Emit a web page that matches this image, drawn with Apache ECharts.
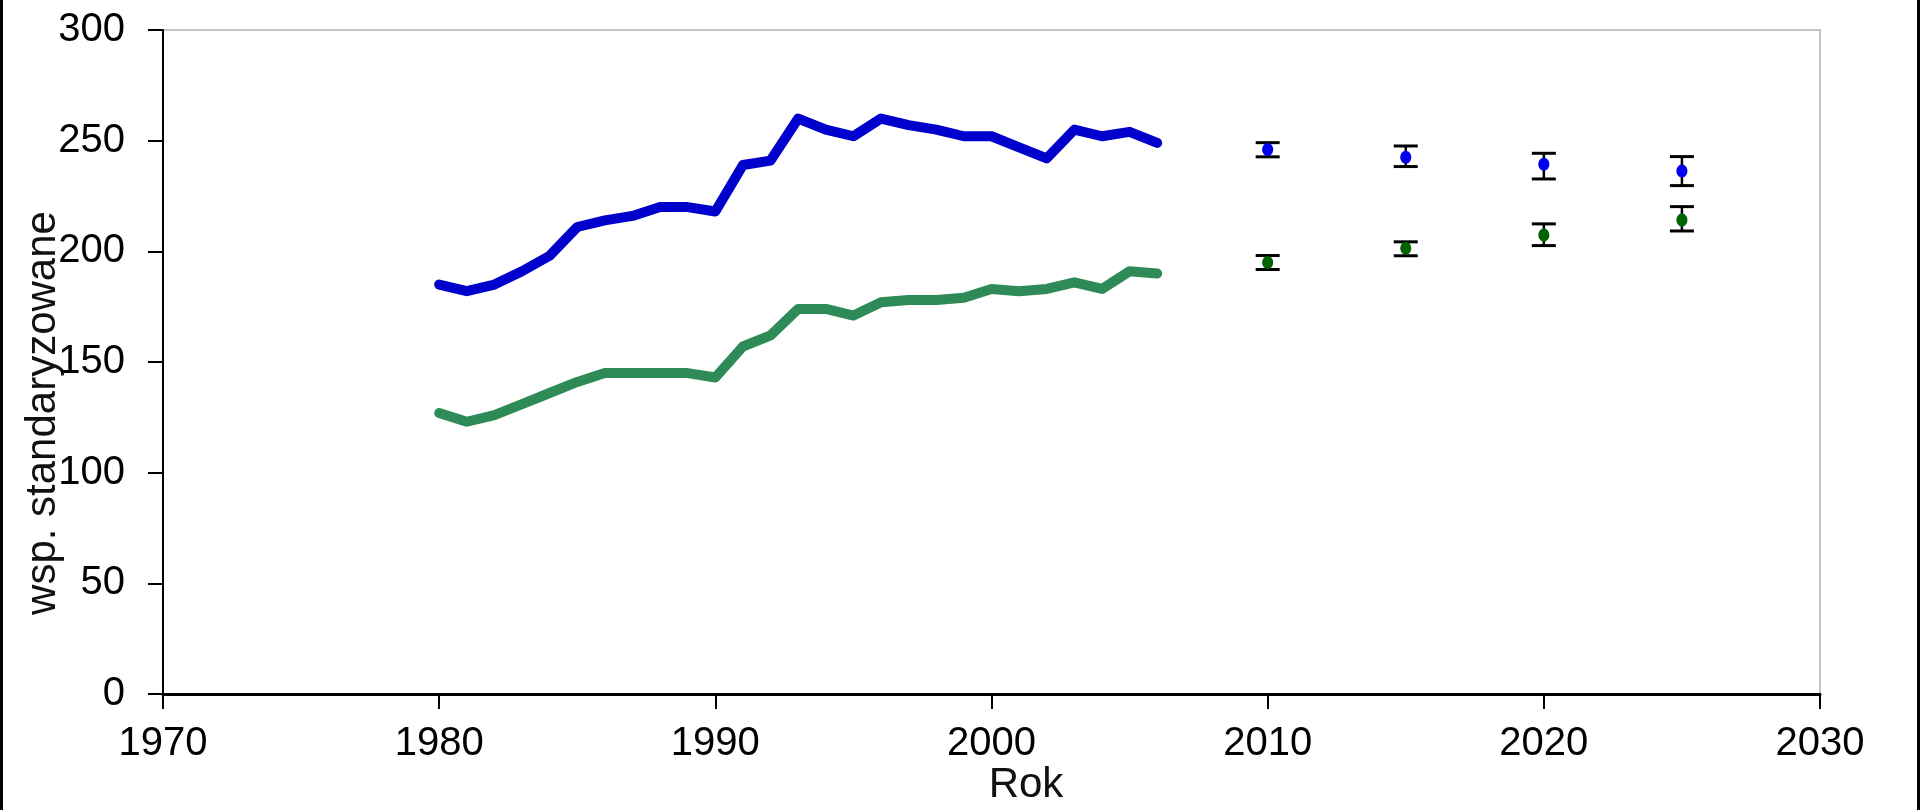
<!DOCTYPE html>
<html>
<head>
<meta charset="utf-8">
<script src="https://cdn.jsdelivr.net/npm/echarts@6/dist/echarts.min.js"></script>
<style>
html,body{margin:0;padding:0;background:#fff;}
#chart{width:1920px;height:810px;}
</style>
</head>
<body>
<div id="chart"></div>
<script>
// ---- data ----
const histYears = [1980,1981,1982,1983,1984,1985,1986,1987,1988,1989,1990,1991,1992,1993,1994,1995,1996,1997,1998,1999,2000,2001,2002,2003,2004,2005,2006];
const blueHist  = [185,182,185,191,198,211,214,216,220,220,218,239,241,260,255,252,260,257,255,252,252,247,242,255,252,254,249];
const greenHist = [127,123,126,131,136,141,145,145,145,145,143,157,162,174,174,171,177,178,178,179,183,182,183,186,183,191,190];
const projYears = [2010,2015,2020,2025];
const blueProj  = [246,242.5,239.3,236.3];
const blueLow   = [242.7,238.3,232.7,229.7];
const blueHigh  = [249.1,247.6,244.3,242.8];
const greenProj = [195,201.4,207.4,214.2];
const greenLow  = [191.8,198,202.6,209.2];
const greenHigh = [198.1,204.3,212.4,220.2];
const xTicks = [1970,1980,1990,2000,2010,2020,2030];
const yTicks = [0,50,100,150,200,250,300];
const yTitle = 'wsp. standaryzowane';
const xTitle = 'Rok';

const FONT = "'Liberation Sans', Arial, sans-serif";
const chart = echarts.init(document.getElementById('chart'), null, {renderer:'canvas'});

function pairs(xs, ys){ return xs.map((x,i)=>[x, ys[i]]); }

function errBar(color){
  return function(params, api){
    const x = api.value(0);
    const lo = api.coord([x, api.value(2)]);
    const hi = api.coord([x, api.value(3)]);
    const c = api.coord([x, api.value(1)]);
    const half = 12;
    const s = {stroke:'#000', lineWidth:3};
    return {type:'group', children:[
      {type:'line', shape:{x1:hi[0],y1:hi[1],x2:lo[0],y2:lo[1]}, style:{stroke:'#000', lineWidth:2.5}},
      {type:'line', shape:{x1:hi[0]-half,y1:hi[1],x2:hi[0]+half,y2:hi[1]}, style:s},
      {type:'line', shape:{x1:lo[0]-half,y1:lo[1],x2:lo[0]+half,y2:lo[1]}, style:s},
      {type:'ellipse', shape:{cx:c[0], cy:c[1], rx:5.5, ry:6.5}, style:{fill:color}}
    ]};
  };
}

chart.setOption({
  animation:false,
  backgroundColor:'#fff',
  grid:{left:163, right:100, top:30, bottom:116, show:true, borderColor:'#c4c4c4', borderWidth:2, backgroundColor:'transparent'},
  xAxis:{
    type:'value', min:xTicks[0], max:xTicks[xTicks.length-1], interval:10,
    axisLine:{show:true, onZero:false, lineStyle:{color:'#000', width:3}},
    axisTick:{show:true, length:15, lineStyle:{color:'#000', width:2}},
    splitLine:{show:false},
    axisLabel:{color:'#000', fontSize:40, fontFamily:FONT, margin:30, formatter:v=>String(v)}
  },
  yAxis:{
    type:'value', min:yTicks[0], max:yTicks[yTicks.length-1], interval:50,
    axisLine:{show:true, onZero:false, lineStyle:{color:'#000', width:2}},
    axisTick:{show:true, length:15, lineStyle:{color:'#000', width:2}},
    splitLine:{show:false},
    axisLabel:{color:'#000', fontSize:40, fontFamily:FONT, margin:38}
  },
  series:[
    {type:'line', data:pairs(histYears, blueHist), showSymbol:false, symbol:'none',
     lineStyle:{color:'#0000cc', width:10, cap:'round', join:'round'}, z:3},
    {type:'line', data:pairs(histYears, greenHist), showSymbol:false, symbol:'none',
     lineStyle:{color:'#2e8b57', width:10, cap:'round', join:'round'}, z:3},
    {type:'custom', renderItem:errBar('#0000ee'), data:projYears.map((x,i)=>[x, blueProj[i], blueLow[i], blueHigh[i]]), z:4},
    {type:'custom', renderItem:errBar('#006400'), data:projYears.map((x,i)=>[x, greenProj[i], greenLow[i], greenHigh[i]]), z:4}
  ],
  graphic:[
    {type:'rect', left:0, top:0, shape:{width:3, height:810}, style:{fill:'#000'}},
    {type:'rect', left:1917, top:0, shape:{width:3, height:810}, style:{fill:'#000'}},
    {type:'text', x:43, y:413, rotation:Math.PI/2, style:{text:yTitle, fontSize:42, fontFamily:FONT, fill:'#111', textAlign:'center', textVerticalAlign:'middle'}},
    {type:'text', x:1026, y:785, style:{text:xTitle, fontSize:42, fontFamily:FONT, fill:'#111', textAlign:'center', textVerticalAlign:'middle'}}
  ]
});
</script>
</body>
</html>
